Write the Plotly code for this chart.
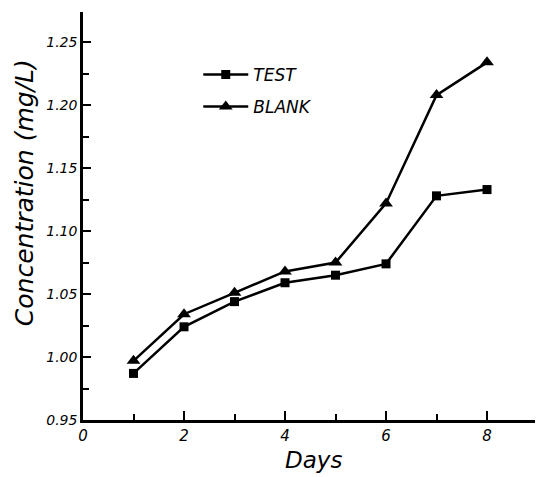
import plotly.graph_objects as go

days = [1, 2, 3, 4, 5, 6, 7, 8]
test_vals = [0.987, 1.024, 1.044, 1.059, 1.065, 1.074, 1.128, 1.133]
blank_vals = [0.997, 1.034, 1.051, 1.068, 1.075, 1.122, 1.208, 1.234]

x_ticks = [0, 2, 4, 6, 8]
y_ticks = [0.95, 1.00, 1.05, 1.10, 1.15, 1.20, 1.25]

FONT = "DejaVu Sans"

fig = go.Figure()
fig.add_trace(go.Scatter(
    x=days, y=test_vals, name="TEST", mode="lines+markers", legendgroup="t",
    line=dict(color="black", width=2.5),
    marker=dict(symbol="square", size=9, color="black"),
))
fig.add_trace(go.Scatter(
    x=days, y=blank_vals, name="BLANK", mode="lines+markers", legendgroup="b",
    line=dict(color="black", width=2.5),
    marker=dict(symbol="triangle-up", size=12, color="black"),
))

fig.update_layout(
    width=537, height=477,
    margin=dict(l=83, r=2, t=12, b=57),
    plot_bgcolor="white", paper_bgcolor="white",
    font=dict(family=FONT, color="black"),
    showlegend=True,
    legend=dict(
        x=0.255, y=0.89, xanchor="left", yanchor="top",
        bgcolor="rgba(0,0,0,0)",
        font=dict(family=FONT, size=17, style="italic", color="black"),
        tracegroupgap=7, itemwidth=45,
    ),
    xaxis=dict(
        range=[0, 8.95], tickvals=x_ticks, ticks="inside", ticklen=9,
        tickwidth=2, tickcolor="black",
        showline=True, linecolor="black", linewidth=2.5,
        showgrid=False, zeroline=False,
        tickfont=dict(family=FONT, size=15, style="italic", color="black"),
        minor=dict(dtick=1, tick0=0, ticks="inside", ticklen=6, tickwidth=2,
                   tickcolor="black", showgrid=False),
    ),
    yaxis=dict(
        range=[0.95, 1.274], tickvals=y_ticks, tickformat=".2f",
        ticks="inside", ticklen=8, tickwidth=2, tickcolor="black",
        showline=True, linecolor="black", linewidth=2.5,
        showgrid=False, zeroline=False,
        tickfont=dict(family=FONT, size=14, style="italic", color="black"),
        minor=dict(dtick=0.025, tick0=0.95, ticks="inside", ticklen=6, tickwidth=2,
                   tickcolor="black", showgrid=False),
    ),
    annotations=[
        dict(text="Concentration (mg/L)", textangle=-90, showarrow=False,
             xref="paper", yref="paper", x=-0.1305, y=0.556,
             xanchor="center", yanchor="middle",
             font=dict(family=FONT, size=25, style="italic", color="black")),
        dict(text="Days", showarrow=False,
             xref="paper", yref="paper", x=0.509, y=-0.098,
             xanchor="center", yanchor="middle",
             font=dict(family=FONT, size=23, style="italic", color="black")),
    ],
)

fig.write_html("out.html", config={"displayModeBar": False},
               post_script="document.body.style.margin='0px';")
